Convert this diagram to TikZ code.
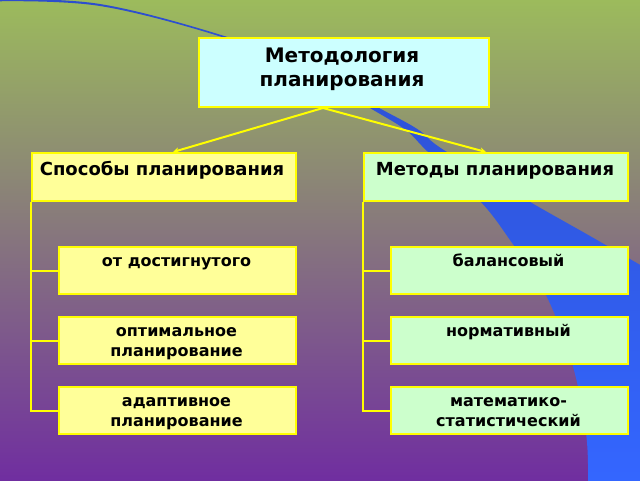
\documentclass[tikz,border=0pt]{standalone}
\usepackage{fontspec}
\setmainfont{DejaVu Sans}
\usetikzlibrary{arrows.meta,calc}
\definecolor{bgtop}{RGB}{156,187,92}
\definecolor{bgmid}{RGB}{134,122,128}
\definecolor{bgbot}{RGB}{112,46,160}
\definecolor{swdark}{RGB}{45,78,205}
\definecolor{swlight}{RGB}{52,102,255}
\definecolor{boxline}{RGB}{255,255,0}
\definecolor{cyanfill}{RGB}{204,255,255}
\definecolor{yelfill}{RGB}{255,255,153}
\definecolor{grnfill}{RGB}{204,255,204}
\tikzset{
  box/.style={draw=boxline, line width=2pt, rectangle, inner sep=0pt, anchor=north west},
  topbox/.style={box, fill=cyanfill, minimum width=290pt, minimum height=69pt},
  headL/.style={box, fill=yelfill, minimum width=264pt, minimum height=48pt},
  headR/.style={box, fill=grnfill, minimum width=264pt, minimum height=48pt},
  childL/.style={box, fill=yelfill, minimum width=237pt, minimum height=47pt},
  childR/.style={box, fill=grnfill, minimum width=237pt, minimum height=47pt},
  conn/.style={draw=boxline, line width=2pt},
  arr/.style={conn, -{Stealth[length=6pt,width=6pt]}},
  ttop/.style={anchor=base, align=center, inner sep=0pt, font=\bfseries\fontsize{20pt}{24pt}\selectfont},
  thead/.style={anchor=base, align=center, inner sep=0pt, font=\bfseries\fontsize{18pt}{21.6pt}\selectfont},
  tchild/.style={anchor=base, align=center, inner sep=0pt, font=\bfseries\fontsize{16pt}{19.3pt}\selectfont},
}
\begin{document}
\begin{tikzpicture}[x=1pt,y=-1pt]
\useasboundingbox (0,0) rectangle (640,480);
% background
\shade[top color=bgtop, middle color=bgmid, bottom color=bgbot] (0,0) rectangle (640,480);
% blue swoosh
\shade[top color=swdark, bottom color=swlight]
  plot[smooth, tension=0.6] coordinates {(-2,-1) (100,4) (222,35.3) (300,66) (380,108.5) (418,129.5) (443,149.5) (525,199) (590,236) (642,266)}
  -- (642,482) -- (588,482)
  -- plot[smooth, tension=0.6] coordinates {(588,480) (586,433) (572,363) (545,293) (510,240) (480,201) (427,151) (407,131) (375,111) (300,68.5) (222,37) (100,6) (-2,1.3)}
  -- cycle;
% boxes
\node[topbox] (top) at (198,37) {};
\node[headL] (h1) at (31,152) {};
\node[headR] (h2) at (363,152) {};
\node[childL] (l1) at (58,246) {};
\node[childL] (l2) at (58,316) {};
\node[childL] (l3) at (58,386) {};
\node[childR] (r1) at (390,246) {};
\node[childR] (r2) at (390,316) {};
\node[childR] (r3) at (390,386) {};
% connectors
\coordinate (ap) at ([xshift=-21pt]top.south);
\coordinate (tipL) at ([xshift=9pt]h1.north);
\coordinate (tipR) at ([xshift=-10pt]h2.north);
\draw[arr] (ap) -- (tipL);
\draw[arr] (ap) -- (tipR);
\draw[conn] (h1.south west) |- (l3.west);
\draw[conn] (h1.south west |- l1.west) -- (l1.west);
\draw[conn] (h1.south west |- l2.west) -- (l2.west);
\draw[conn] (h2.south west) |- (r3.west);
\draw[conn] (h2.south west |- r1.west) -- (r1.west);
\draw[conn] (h2.south west |- r2.west) -- (r2.west);
% texts (base anchor = baseline of last line)
\node[ttop] (ttxt) at (342,86) {Методология\\планирования};
\node[thead] (h1t) at (162,175) {Способы планирования};
\node[thead] (h2t) at (495,175) {Методы планирования};
\node[tchild] (l1t) at (176.5,266) {от достигнутого};
\node[tchild] (l2t) at (176.5,356) {оптимальное\\планирование};
\node[tchild] (l3t) at (176.5,426) {адаптивное\\планирование};
\node[tchild] (r1t) at (508.5,266) {балансовый};
\node[tchild] (r2t) at (508.5,336) {нормативный};
\node[tchild] (r3t) at (508.5,426) {математико-\\статистический};
\end{tikzpicture}
\end{document}
